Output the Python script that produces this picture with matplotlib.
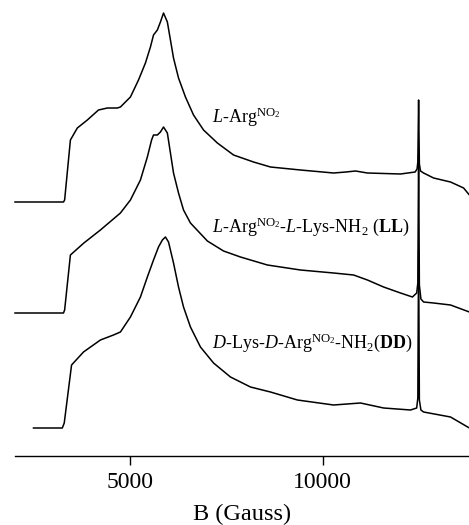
import matplotlib
matplotlib.use("Agg")
import matplotlib.pyplot as plt

plt.rcParams['font.family'] = ['Liberation Serif', 'DejaVu Serif']
plt.rcParams['mathtext.fontset'] = 'custom'
plt.rcParams['mathtext.rm'] = 'Liberation Serif'
plt.rcParams['mathtext.it'] = 'Liberation Serif:italic'
plt.rcParams['mathtext.bf'] = 'Liberation Serif:bold'

# Magnetic field (Gauss) and signal (a.u., relative to each trace's baseline)
b_arg = [2000, 3260, 3290, 3440, 3620, 3880, 4170, 4400, 4660, 4740, 5000, 5210,
         5390, 5520, 5600, 5700, 5780, 5860, 5960, 6040, 6120, 6250, 6430, 6640,
         6900, 7260, 7680, 8200, 8640, 9420, 10280, 10600, 10850, 11160, 12020,
         12400, 12450, 12470, 12490, 12510, 12540, 12620, 12880, 13320, 13660, 13810]
s_arg = [0, 0, 2, 62, 74, 82, 92, 94, 94, 95, 105, 122,
         139, 155, 167, 172, 180, 189, 180, 162, 144, 124, 105, 87,
         72, 59, 47, 40, 35, 32, 29, 30, 31, 29, 28,
         30, 33, 40, 102, 38, 31, 29, 24, 20, 14, 7]

b_ll = [2000, 3260, 3290, 3440, 3790, 4220, 4740, 5000, 5260, 5440, 5550, 5600,
        5700, 5780, 5860, 5960, 6040, 6120, 6250, 6380, 6560, 7000, 7420, 7860,
        8560, 9420, 10280, 10800, 11160, 11580, 12020, 12330, 12440, 12470, 12490,
        12510, 12550, 12620, 12880, 13320, 13810]
s_ll = [0, 0, 3, 58, 70, 83, 100, 113, 133, 156, 173, 178,
        178, 181, 186, 180, 160, 140, 120, 103, 90, 72, 62, 56,
        48, 43, 40, 38, 33, 26, 20, 16, 20, 30, 158,
        28, 14, 11, 10, 8, 1]

b_dd = [2480, 3230, 3280, 3470, 3780, 4220, 4560, 4740, 5000, 5260, 5440, 5600,
        5730, 5830, 5910, 5990, 6120, 6250, 6380, 6560, 6820, 7160, 7600, 8120,
        8640, 9340, 10280, 10980, 11580, 12280, 12440, 12470, 12490, 12510, 12550,
        12620, 13320, 13810]
s_dd = [0, 0, 5, 63, 76, 88, 93, 96, 111, 131, 151, 168,
        181, 188, 191, 186, 165, 141, 121, 101, 81, 65, 51, 41,
        36, 28, 23, 25, 20, 18, 20, 30, 178, 28, 18,
        16, 11, 0]

offsets = [254, 143, 28]
labels = [r"$\mathit{L}$-Arg$^{\mathrm{NO_2}}$",
          r"$\mathit{L}$-Arg$^{\mathrm{NO_2}}$-$\mathit{L}$-Lys-NH$_2$ ($\mathbf{LL}$)",
          r"$\mathit{D}$-Lys-$\mathit{D}$-Arg$^{\mathrm{NO_2}}$-NH$_2$($\mathbf{DD}$)"]
label_x = 7130
label_y = [333, 224, 108]

fig = plt.figure(figsize=(4.69, 5.25), dpi=100)
ax = fig.add_axes([15/469, 69/525, 454/469, 456/525])

for b, s, off in [(b_arg, s_arg, offsets[0]), (b_ll, s_ll, offsets[1]), (b_dd, s_dd, offsets[2])]:
    ax.plot(b, [v + off for v in s], color='black', lw=1.1, clip_on=False)

for lab, ly in zip(labels, label_y):
    ax.text(label_x, ly, lab, fontsize=13, va='baseline', ha='left')

ax.set_xlim(2000, 13800)
ax.set_ylim(0, 456)
for sp in ['left', 'right', 'top']:
    ax.spines[sp].set_visible(False)
ax.spines['bottom'].set_linewidth(1.0)
ax.set_yticks([])
ax.set_xticks([5000, 10000])
ax.tick_params(axis='x', direction='out', length=6.5, width=1.0, labelsize=17, pad=5)
ax.set_xlabel('B (Gauss)', fontsize=17.5, labelpad=8)

fig.savefig('out.png', dpi=100)
